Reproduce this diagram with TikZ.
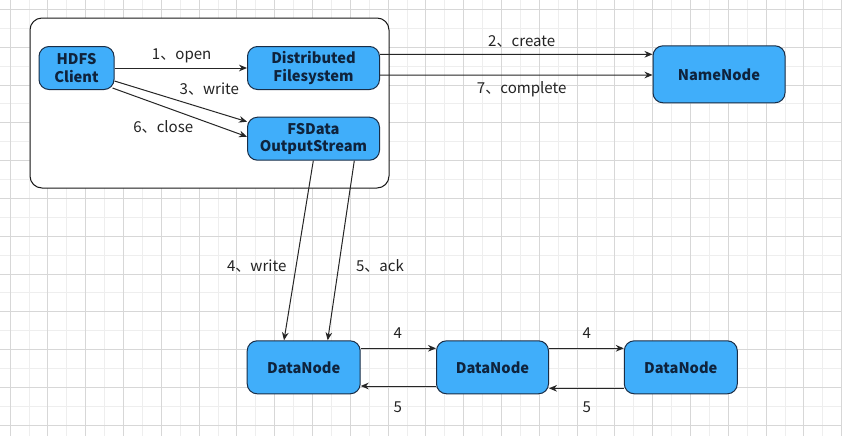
\documentclass[tikz,border=0pt]{standalone}
\usepackage{fontspec}
\setmainfont{Noto Sans CJK SC}
\usetikzlibrary{arrows.meta,calc}
\definecolor{boxfill}{RGB}{64,174,250}
\definecolor{boxdraw}{RGB}{25,45,70}
\definecolor{boxtext}{RGB}{15,35,60}
\definecolor{gridmajor}{RGB}{215,215,215}
\definecolor{gridminor}{RGB}{238,238,238}
\definecolor{lbltext}{RGB}{35,35,35}
\tikzset{
  box/.style={draw=boxdraw, fill=boxfill, rounded corners=7.5pt, line width=0.75pt,
    text=boxtext, font=\fontsize{11pt}{13pt}\selectfont\bfseries, align=center, inner sep=0pt},
  conn/.style={draw=black!85, line width=0.75pt, -{Stealth[length=6pt,width=5pt]}},
  lbl/.style={text=lbltext, font=\fontsize{11.3pt}{13pt}\selectfont, inner sep=0pt},
}
\begin{document}
\begin{tikzpicture}[x=0.75pt,y=-0.75pt]
\useasboundingbox (0,0) rectangle (842,436);
\fill[white] (0,0) rectangle (842,436);
% grid
\foreach \k in {0,...,22} {
  \draw[gridminor, line width=0.6pt] ({28.9+37.8*\k},0) -- ({28.9+37.8*\k},436);
}
\foreach \k in {0,...,11} {
  \draw[gridminor, line width=0.6pt] (0,{28.2+37.8*\k}) -- (842,{28.2+37.8*\k});
}
\foreach \k in {0,...,22} {
  \draw[gridmajor, line width=0.6pt] ({10+37.8*\k},0) -- ({10+37.8*\k},436);
}
\foreach \k in {0,...,11} {
  \draw[gridmajor, line width=0.6pt] (0,{9.3+37.8*\k}) -- (842,{9.3+37.8*\k});
}
% container
\draw[fill=white, draw=black!90, line width=0.75pt, rounded corners=9pt] (30,18) rectangle (389,188);
% nodes
\node[box, minimum width=56.25pt, minimum height=32.25pt] (hdfs) at (76.5,68) {HDFS\\Client};
\node[box, minimum width=99pt, minimum height=32.25pt] (dfs) at (313.5,68) {Distributed\\Filesystem};
\node[box, minimum width=99pt, minimum height=32.25pt] (fsd) at (313.5,138.7) {FSData\\OutputStream};
\node[box, minimum width=99pt, minimum height=42.75pt] (nn) at (719,74.3) {NameNode};
\node[box, minimum width=84.75pt, minimum height=39.75pt] (dn1) at (303.7,367.3) {DataNode};
\node[box, minimum width=84pt, minimum height=39.75pt] (dn2) at (492.5,367.3) {DataNode};
\node[box, minimum width=84.75pt, minimum height=39.75pt] (dn3) at (680.8,367.3) {DataNode};
% connectors
\draw[conn] (hdfs.east) -- (dfs.west);
\draw[conn] ($(hdfs.east)+(0,13)$) -- ($(fsd.west)+(0,-17)$);
\draw[conn] ($(hdfs.east)+(-2,20)$) -- ($(fsd.west)+(0,-2)$);
\draw[conn] ($(dfs.east)+(0,-13.7)$) -- ($(nn.west)+(0,-20)$);
\draw[conn] ($(dfs.east)+(0,7)$) -- ($(nn.west)+(0,0.7)$);
\draw[conn] ($(fsd.south)+(-0.2,0)$) -- ($(dn1.north)+(-19.7,0)$);
\draw[conn] ($(fsd.south)+(40.8,0)$) -- ($(dn1.north)+(24,0)$);
\draw[conn] ($(dn1.east)+(0,-19)$) -- ($(dn2.west)+(0,-19)$);
\draw[conn] ($(dn2.west)+(0,18.7)$) -- ($(dn1.east)+(0,18.7)$);
\draw[conn] ($(dn2.east)+(0,-19)$) -- ($(dn3.west)+(0,-19)$);
\draw[conn] ($(dn3.west)+(0,21)$) -- ($(dn2.east)+(0,21)$);
% labels
\node[lbl] (l1) at (181.7,56) {1、open};
\node[lbl] (l3) at (209.3,89) {3、write};
\node[lbl] (l6) at (163.3,126.7) {6、close};
\node[lbl] (l2) at (521.7,41.7) {2、create};
\node[lbl] (l7) at (521.7,89.3) {7、complete};
\node[lbl] (l4) at (256.7,266) {4、write};
\node[lbl] (l5) at (380,266) {5、ack};
\node[lbl] (d4a) at (397.7,333.3) {4};
\node[lbl] (d5a) at (397.7,407.3) {5};
\node[lbl] (d4b) at (586.7,333.3) {4};
\node[lbl] (d5b) at (586.7,407.3) {5};
\end{tikzpicture}
\end{document}
